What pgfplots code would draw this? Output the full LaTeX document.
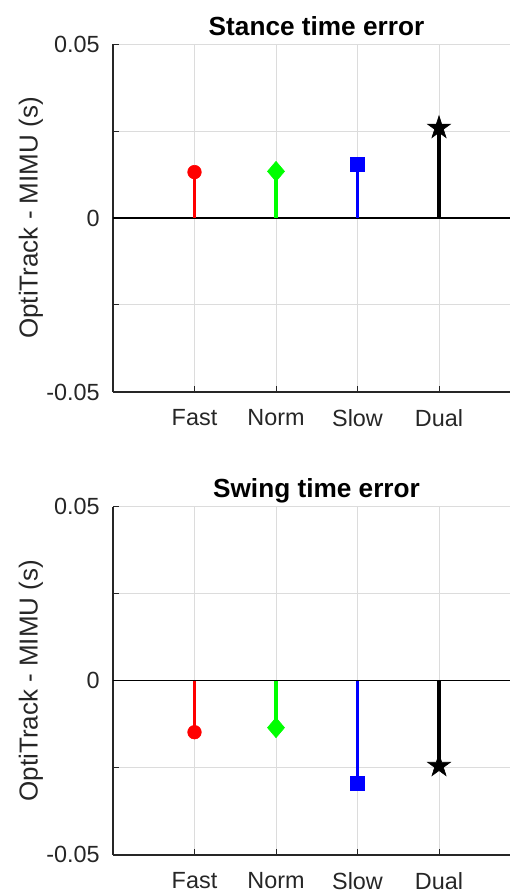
\documentclass[border=0pt]{standalone}
\usepackage{pgfplots}
\pgfplotsset{compat=1.18}
\usepackage{fontspec}
\setmainfont{Liberation Sans}
\definecolor{axgray}{HTML}{262626}
\definecolor{gridgray}{HTML}{DCDCDC}
\definecolor{mred}{HTML}{FF0000}
\definecolor{mgreen}{HTML}{00FF00}
\definecolor{mblue}{HTML}{0000FF}

\pgfdeclareplotmark{pstar}{%
  \pgfpathmoveto{\pgfqpointpolar{90}{\pgfplotmarksize}}%
  \pgfpathlineto{\pgfqpointpolar{126}{0.382\pgfplotmarksize}}%
  \pgfpathlineto{\pgfqpointpolar{162}{\pgfplotmarksize}}%
  \pgfpathlineto{\pgfqpointpolar{198}{0.382\pgfplotmarksize}}%
  \pgfpathlineto{\pgfqpointpolar{234}{\pgfplotmarksize}}%
  \pgfpathlineto{\pgfqpointpolar{270}{0.382\pgfplotmarksize}}%
  \pgfpathlineto{\pgfqpointpolar{306}{\pgfplotmarksize}}%
  \pgfpathlineto{\pgfqpointpolar{342}{0.382\pgfplotmarksize}}%
  \pgfpathlineto{\pgfqpointpolar{18}{\pgfplotmarksize}}%
  \pgfpathlineto{\pgfqpointpolar{54}{0.382\pgfplotmarksize}}%
  \pgfpathclose
  \pgfusepathqfillstroke}
\pgfdeclareplotmark{mdiamond}{%
  \pgfpathmoveto{\pgfqpoint{0pt}{\pgfplotmarksize}}%
  \pgfpathlineto{\pgfqpoint{0.85\pgfplotmarksize}{0pt}}%
  \pgfpathlineto{\pgfqpoint{0pt}{-\pgfplotmarksize}}%
  \pgfpathlineto{\pgfqpoint{-0.85\pgfplotmarksize}{0pt}}%
  \pgfpathclose
  \pgfusepathqfillstroke}

\pgfplotsset{
  stemaxis/.style={
    scale only axis,
    width=198.5pt, height=174pt,
    anchor=south west,
    xmin=0, xmax=4.871,
    ymin=-0.05, ymax=0.05,
    axis x line*=bottom, axis y line*=left,
    axis line style={axgray, line width=0.9pt},
    xtick={1,2,3,4},
    xticklabels={Fast,Norm,Slow,Dual},
    ytick={-0.05,-0.025,0,0.025,0.05},
    yticklabels={-0.05,,0,,0.05},
    scaled y ticks=false,
    tick align=inside,
    major tick length=3pt,
    tick style={axgray, line width=0.5pt},
    grid=major,
    major grid style={gridgray, line width=0.5pt},
    ticklabel style={font=\fontsize{11.7}{13}\selectfont, text=axgray},
    xticklabel style={anchor=center, yshift=-13pt},
    yticklabel style={anchor=east, inner sep=0pt, xshift=-6.5pt},
    /pgf/number format/assume math mode=true,
    ylabel={OptiTrack - MIMU (s)},
    ylabel style={at={(axis description cs:-0.207,0.5)}, anchor=center, font=\fontsize{13}{15}\selectfont, text=axgray},
    title style={at={(axis description cs:0.5,1)}, anchor=base, inner sep=0pt, xshift=2.5pt, yshift=-1.6pt, font=\fontsize{13.1}{15}\selectfont\bfseries},
    clip=false,
  },
  stem/.style={ycomb, line width=1.7pt, mark options={line width=0.3pt, solid}},
}

\begin{document}
\begin{tikzpicture}
\begin{axis}[stemaxis, at={(56.5pt,249pt)}, title={Stance time error}]
  \addplot[black, line width=0.6pt] coordinates {(0,0) (4.871,0)};
  \addplot[stem, mred, line width=1.1pt, mark=*, mark size=3.4pt] coordinates {(1,0.0132)};
  \addplot[stem, mgreen, mark=mdiamond, mark size=5pt] coordinates {(2,0.0134)};
  \addplot[stem, mblue, mark=square*, mark size=3.5pt] coordinates {(3,0.0155)};
  \addplot[stem, black, mark=pstar, mark size=6pt] coordinates {(4,0.0259)};
\end{axis}
\begin{axis}[stemaxis, at={(56.5pt,17.65pt)}, title={Swing time error}]
  \addplot[black, line width=0.6pt] coordinates {(0,0) (4.871,0)};
  \addplot[stem, mred, line width=1.5pt, mark=*, mark size=3.4pt] coordinates {(1,-0.0148)};
  \addplot[stem, mgreen, mark=mdiamond, mark size=5pt] coordinates {(2,-0.0135)};
  \addplot[stem, mblue, mark=square*, mark size=3.5pt] coordinates {(3,-0.0295)};
  \addplot[stem, black, mark=pstar, mark size=6pt] coordinates {(4,-0.0245)};
\end{axis}
\pgfresetboundingbox
\useasboundingbox (0,0) rectangle (255pt,445pt);
\end{tikzpicture}
\end{document}
